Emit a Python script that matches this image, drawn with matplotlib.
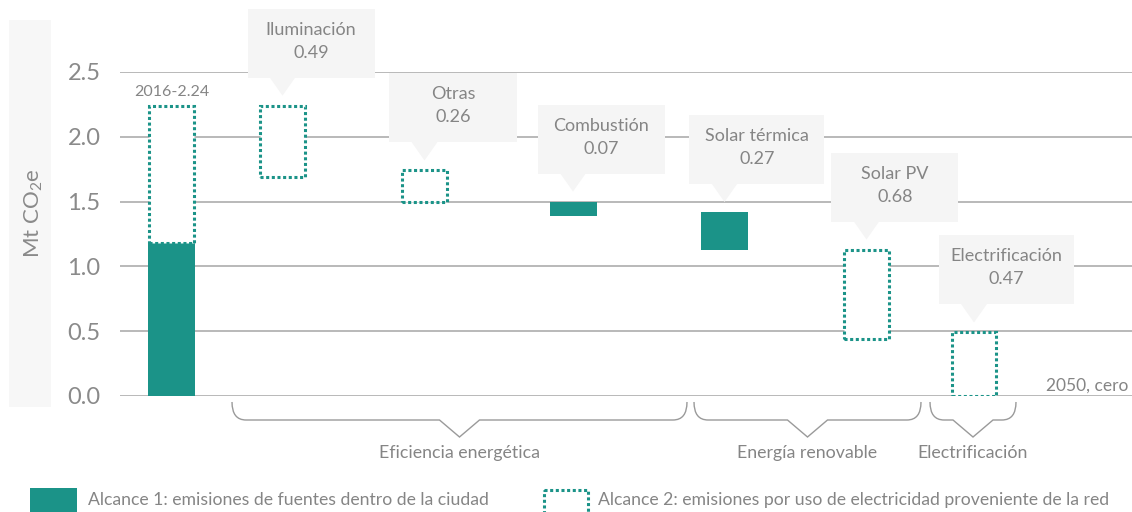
import matplotlib
matplotlib.use("Agg")
import matplotlib.pyplot as plt
from matplotlib.patches import Rectangle, Polygon, PathPatch
from matplotlib.path import Path

plt.rcParams["font.family"] = ["Lato", "DejaVu Sans"]
plt.rcParams["mathtext.fontset"] = "custom"
plt.rcParams["mathtext.rm"] = "Lato"
plt.rcParams["mathtext.it"] = "Lato"

# --- data ------------------------------------------------------------------
categories = ["2016", "Iluminación", "Otras", "Combustión", "Solar térmica",
              "Solar PV", "Electrificación"]
label_values = [2.24, 0.49, 0.26, 0.07, 0.27, 0.68, 0.47]
# baseline bar (2016): scope 1 solid part, scope 2 dotted part on top
base_scope1 = 1.18
base_total = 2.24
# reduction steps (floating bars)
step_bottom = [1.69, 1.50, 1.39, 1.13, 0.44, 0.00]
step_top = [2.24, 1.74, 1.50, 1.42, 1.13, 0.49]
step_scope = [2, 2, 1, 1, 2, 2]

groups = ["Eficiencia energética", "Energía renovable", "Electrificación"]
legend_labels = ["Alcance 1: emisiones de fuentes dentro de la ciudad",
                 "Alcance 2: emisiones por uso de electricidad proveniente de la red"]

# --- layout (pixel based, figure is 1132 x 512) ----------------------------
W, H = 1132, 512
slot_x = [51.5, 162.5, 304.5, 453, 604.5, 746.5, 854]   # bar centres in axis units
bar_w = 47
group_span = [(232, 687), (694, 921), (930, 1016)]      # brace extents (px)

TEAL = "#1b9388"
GREY_TXT = "#858585"
BOX = "#f5f5f5"

fig = plt.figure(figsize=(W / 100, H / 100), dpi=100)
ax = fig.add_axes([120 / W, 1 - 396 / H, 1 - 120 / W, (396 - 72) / H])
ax.set_xlim(0, W - 120)
ax.set_ylim(0, 2.5)
ax.set_yticks([0, 0.5, 1.0, 1.5, 2.0, 2.5])
ax.set_yticklabels(["0.0", "0.5", "1.0", "1.5", "2.0", "2.5"])
ax.set_xticks([])
ax.tick_params(axis="y", length=0, pad=14, labelsize=17, labelcolor="#8a8a8a")
ax.grid(axis="y", color="#b3b3b3", lw=1.3, zorder=0)
ax.set_axisbelow(True)
for s in ax.spines.values():
    s.set_visible(False)


def solid(x, b, t):
    ax.add_patch(Rectangle((x - bar_w / 2, b), bar_w, t - b, facecolor=TEAL,
                           edgecolor="none", zorder=3))


def dotted(x, b, t):
    ax.add_patch(Rectangle((x - bar_w / 2 + 1.2, b), bar_w - 2.4, t - b,
                           facecolor="white", edgecolor=TEAL, lw=2.2,
                           linestyle=(0, (1, 0.85)), zorder=3))


solid(slot_x[0], 0, base_scope1)
dotted(slot_x[0], base_scope1, base_total)
for i, (b, t, sc) in enumerate(zip(step_bottom, step_top, step_scope)):
    (solid if sc == 1 else dotted)(slot_x[i + 1], b, t)

# overlay axes in pixel coords (y down) for annotations
ov = fig.add_axes([0, 0, 1, 1], zorder=5)
ov.set_xlim(0, W)
ov.set_ylim(H, 0)
ov.axis("off")
ov.patch.set_alpha(0)


def to_px(x, y):
    px, py = ax.transData.transform((x, y))
    return px, H - py


# y label background box and label
ov.add_patch(Rectangle((9, 20), 42, 387, facecolor="#f7f7f7", edgecolor="none"))
ov.text(34, 213, "Mt CO$_{2}$e", rotation=90, ha="center", va="center",
        fontsize=16, color="#8a8a8a")

# baseline label
bx, by = to_px(slot_x[0], base_total)
ov.text(bx, by - 14, f"2016-{label_values[0]:.2f}", ha="center", va="center",
        fontsize=11.5, color=GREY_TXT)

# callouts
for i in range(1, len(categories)):
    tx, ty = to_px(slot_x[i], step_top[i - 1])
    tip_y = ty - 10
    box_h = 69
    box_w = 135 if len(categories[i]) > 12 else 127
    left = tx - 35
    top = tip_y - 18 - box_h
    ov.add_patch(Rectangle((left, top), box_w, box_h, facecolor=BOX,
                           edgecolor="none"))
    ov.add_patch(Polygon([(tx - 13, top + box_h - 0.5), (tx + 13, top + box_h - 0.5),
                          (tx, tip_y)], closed=True, facecolor=BOX,
                         edgecolor="none"))
    ov.text(left + box_w / 2, top + 21, categories[i], ha="center",
            va="center", fontsize=13, color=GREY_TXT)
    ov.text(left + box_w / 2, top + 44, f"{label_values[i]:.2f}", ha="center",
            va="center", fontsize=13, color=GREY_TXT)

ov.text(1128, 386, "2050, cero", ha="right", va="center", fontsize=12.5,
        color=GREY_TXT)

# braces under the axis
for (x0, x1), name in zip(group_span, groups):
    tip = (x0 + x1) / 2
    verts = [(x0, 402), (x0, 420), (x0 + 14, 420),
             (tip - 20, 420), (tip, 437), (tip + 20, 420),
             (x1 - 14, 420), (x1, 420), (x1, 402)]
    codes = [Path.MOVETO, Path.CURVE3, Path.CURVE3,
             Path.LINETO, Path.LINETO, Path.LINETO,
             Path.LINETO, Path.CURVE3, Path.CURVE3]
    ov.add_patch(PathPatch(Path(verts, codes), facecolor="none",
                           edgecolor="#9a9a9a", lw=1))
    ov.text(tip, 453, name, ha="center", va="center", fontsize=12.8,
            color=GREY_TXT)

# legend
ov.add_patch(Rectangle((30, 488), 47, 30, facecolor=TEAL, edgecolor="none",
                       clip_on=False))
ov.text(88, 500, legend_labels[0], ha="left", va="center", fontsize=12.7,
        color=GREY_TXT)
ov.add_patch(Rectangle((544, 490), 44, 30, facecolor="white", edgecolor=TEAL,
                       lw=2.2, linestyle=(0, (1, 0.85))))
ov.text(598, 500, legend_labels[1], ha="left", va="center", fontsize=12.7,
        color=GREY_TXT)

fig.savefig("out.png", dpi=100)
